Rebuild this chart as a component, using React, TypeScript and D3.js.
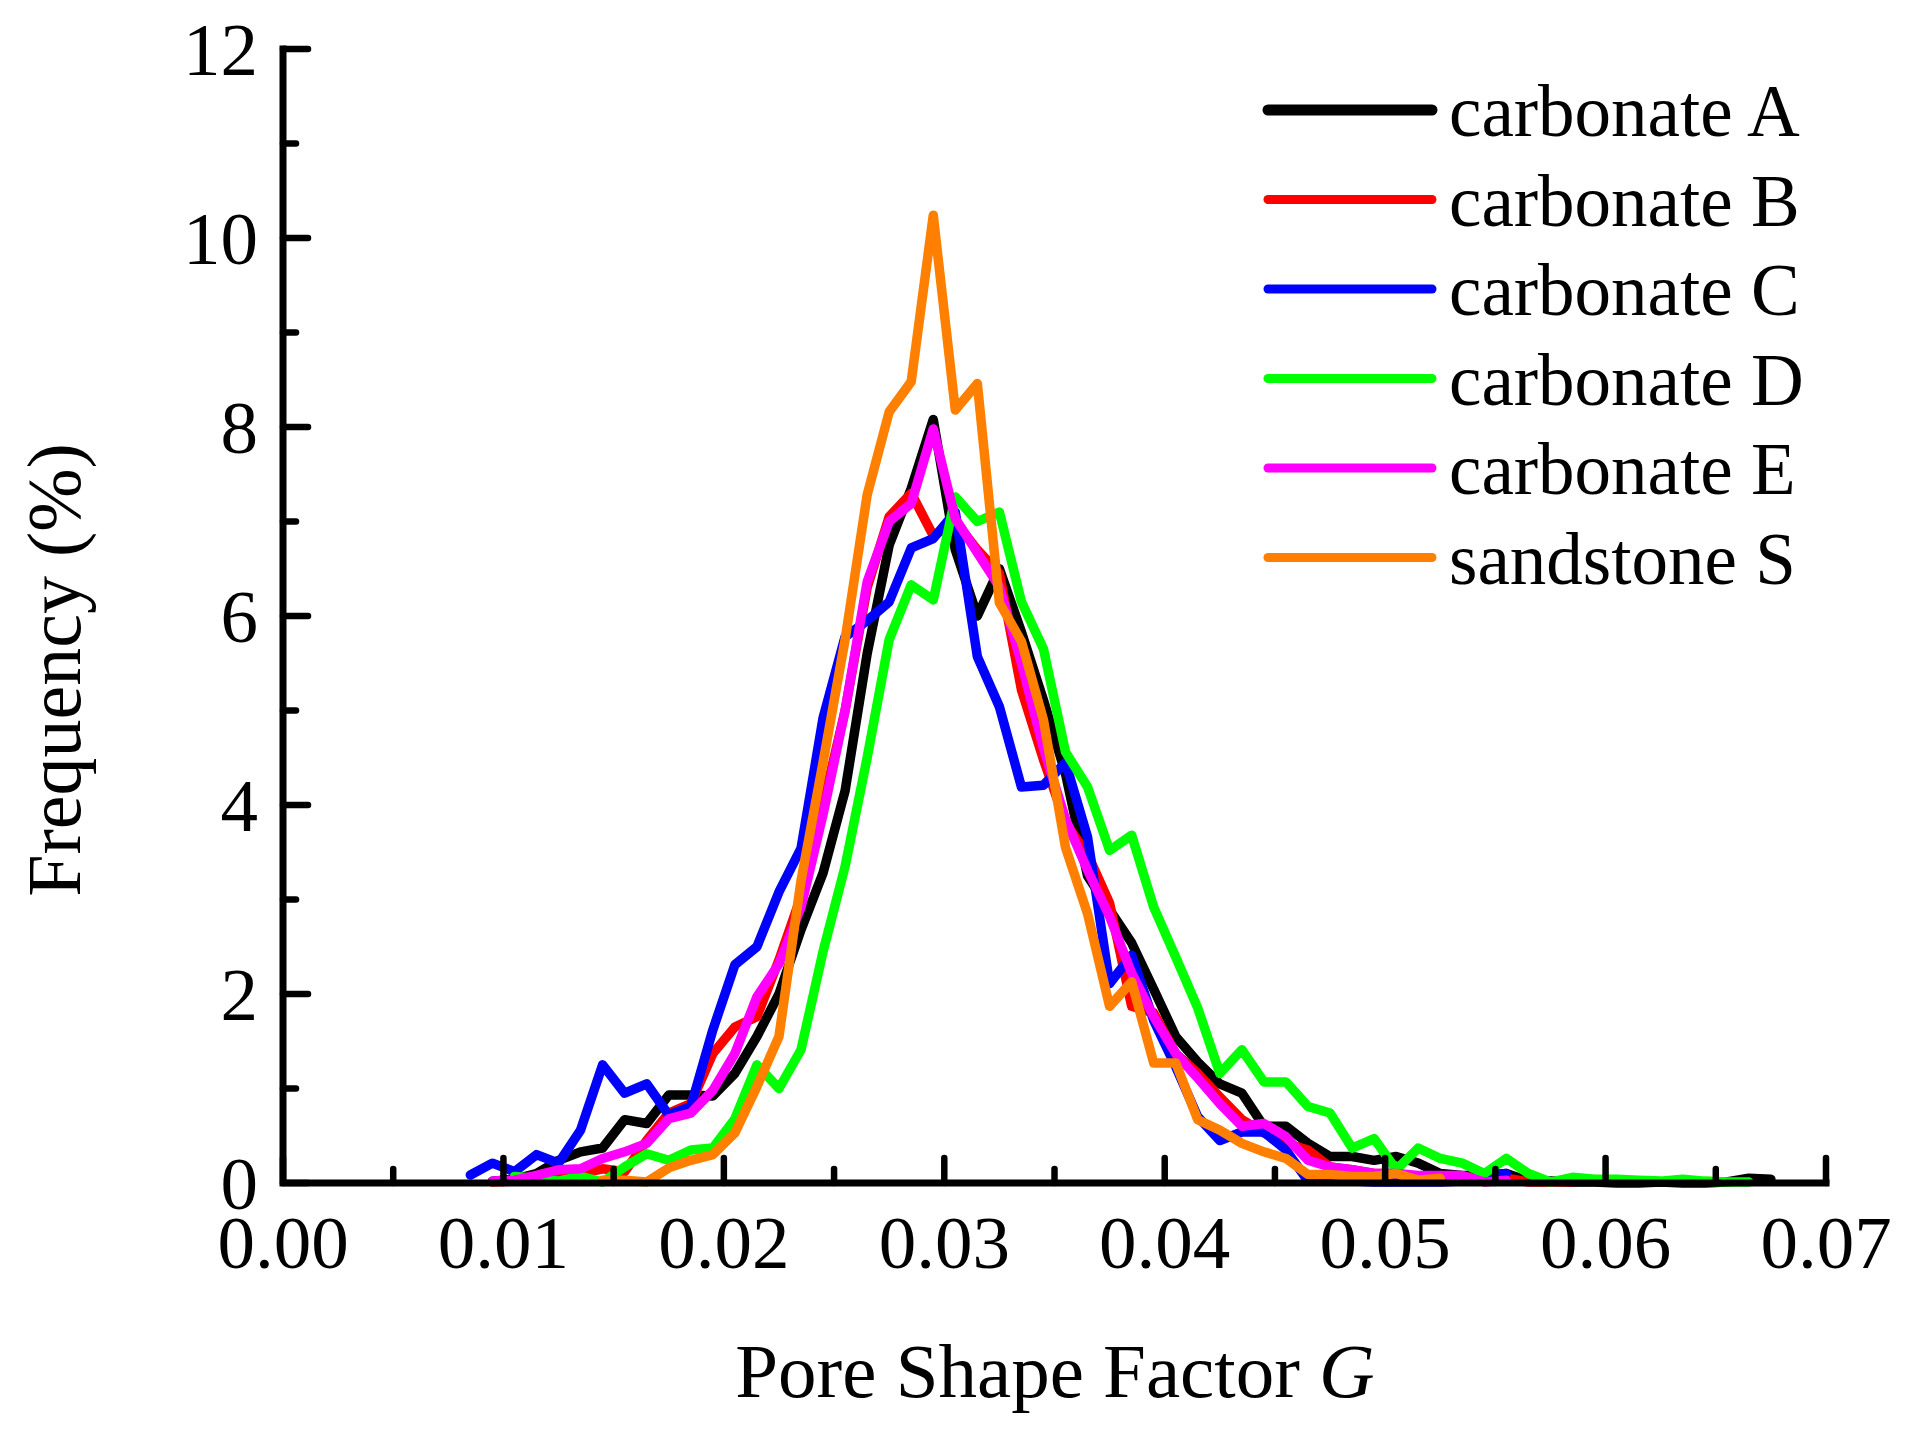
import React from "react";
import * as d3 from "d3";

// Bin centres of pore shape factor G
const gBins: number[] = [
  0.0085, 0.0095, 0.0105, 0.0115, 0.0125, 0.0135, 0.0145, 0.0155, 0.0165, 0.0175,
  0.0185, 0.0195, 0.0205, 0.0215, 0.0225, 0.0235, 0.0245, 0.0255, 0.0265, 0.0275,
  0.0285, 0.0295, 0.0305, 0.0315, 0.0325, 0.0335, 0.0345, 0.0355, 0.0365, 0.0375,
  0.0385, 0.0395, 0.0405, 0.0415, 0.0425, 0.0435, 0.0445, 0.0455, 0.0465, 0.0475,
  0.0485, 0.0495, 0.0505, 0.0515, 0.0525, 0.0535, 0.0545, 0.0555, 0.0565, 0.0575,
  0.0585, 0.0595, 0.0605, 0.0615, 0.0625, 0.0635, 0.0645, 0.0655, 0.0665, 0.0675,
];

type V = number | null;
const _ = null;

const carbonateA: V[] = [
  _, 0.02, 0.04, 0.10, 0.24, 0.33, 0.37, 0.67, 0.63, 0.93,
  0.93, 0.92, 1.16, 1.55, 2.0, 2.68, 3.28, 4.15, 5.6, 6.75,
  7.35, 8.08, 6.7, 6.0, 6.5, 5.83, 5.11, 4.33, 3.25, 2.89,
  2.54, 2.05, 1.55, 1.28, 1.05, 0.95, 0.60, 0.60, 0.42, 0.28,
  0.28, 0.24, 0.28, 0.21, 0.10, 0.08, 0.08, 0.10, 0.02, 0.02,
  0.01, 0.01, 0.0, 0.0, 0.01, 0.0, 0.0, 0.01, 0.05, 0.04,
];
const carbonateB: V[] = [
  _, 0.01, 0.02, 0.02, 0.05, 0.10, 0.15, 0.12, 0.45, 0.74,
  0.84, 1.37, 1.65, 1.76, 2.36, 3.03, 4.0, 5.0, 6.3, 7.05,
  7.3, 6.85, 7.0, 6.7, 6.45, 5.22, 4.48, 3.81, 3.48, 2.96,
  1.87, 1.8, 1.37, 1.16, 0.91, 0.67, 0.53, 0.42, 0.35, 0.17,
  0.14, 0.10, 0.10, 0.05, 0.05, 0.06, 0.06, 0.05, 0.01, 0.01,
  0.01, _, _, _, _, _, _, _, _, _,
];
const carbonateC: V[] = [
  0.085, 0.21, 0.12, 0.30, 0.21, 0.56, 1.25, 0.95, 1.05, 0.72,
  0.81, 1.62, 2.31, 2.50, 3.08, 3.54, 4.92, 5.78, 5.95, 6.15,
  6.72, 6.82, 7.10, 5.57, 5.04, 4.19, 4.21, 4.45, 3.66, 2.11,
  2.41, 1.72, 1.23, 0.70, 0.45, 0.54, 0.54, 0.35, 0.02, 0.02,
  0.02, 0.01, 0.01, 0.01, 0.01, 0.02, 0.08, 0.10, _, _,
  _, _, _, _, _, _, _, _, _, _,
];
const carbonateD: V[] = [
  _, _, 0.07, 0.05, 0.02, 0.07, 0.01, 0.17, 0.31, 0.24,
  0.35, 0.37, 0.68, 1.25, 1.0, 1.41, 2.45, 3.35, 4.5, 5.75,
  6.33, 6.17, 7.26, 7.0, 7.1, 6.15, 5.65, 4.56, 4.19, 3.52,
  3.68, 2.92, 2.39, 1.85, 1.16, 1.41, 1.07, 1.07, 0.81, 0.74,
  0.37, 0.47, 0.14, 0.37, 0.26, 0.21, 0.10, 0.26, 0.10, 0.01,
  0.06, 0.04, 0.04, 0.03, 0.02, 0.04, 0.02, 0.01, 0.01, _,
];
const carbonateE: V[] = [
  _, 0.02, 0.03, 0.08, 0.14, 0.15, 0.26, 0.33, 0.42, 0.68,
  0.74, 0.98, 1.37, 1.97, 2.32, 2.92, 3.9, 5.0, 6.36, 7.0,
  7.19, 7.98, 7.03, 6.67, 6.31, 5.5, 4.6, 3.85, 3.31, 2.82,
  2.22, 1.76, 1.37, 1.11, 0.84, 0.60, 0.63, 0.49, 0.24, 0.17,
  0.14, 0.10, 0.10, 0.08, 0.08, 0.08, 0.01, 0.03, _, _,
  _, _, _, _, _, _, _, _, _, _,
];
const sandstoneS: V[] = [
  _, _, _, _, _, _, 0.03, 0.03, 0.01, 0.16,
  0.24, 0.30, 0.53, 1.02, 1.55, 3.2, 4.45, 5.75, 7.28, 8.16,
  8.48, 10.24, 8.18, 8.46, 6.14, 5.73, 4.9, 3.55, 2.85, 1.87,
  2.13, 1.27, 1.27, 0.67, 0.56, 0.42, 0.33, 0.26, 0.09, 0.09,
  0.07, 0.07, 0.10, 0.03, 0.05, _, _, _, _, _,
  _, _, _, _, _, _, _, _, _, _,
];

const seriesNames = ["carbonate A", "carbonate B", "carbonate C", "carbonate D", "carbonate E", "sandstone S"];
const seriesValues = [carbonateA, carbonateB, carbonateC, carbonateD, carbonateE, sandstoneS];
const seriesColors = ["#000000", "#FF0000", "#0000FF", "#00FF00", "#FF00FF", "#FF8000"];

const xTickValues = [0, 0.01, 0.02, 0.03, 0.04, 0.05, 0.06, 0.07];
const xTickLabels = ["0.00", "0.01", "0.02", "0.03", "0.04", "0.05", "0.06", "0.07"];
const yTickValues = [0, 2, 4, 6, 8, 10, 12];
const yTickLabels = ["0", "2", "4", "6", "8", "10", "12"];

const xTitle = "Pore Shape Factor ";
const xTitleItalic = "G";
const yTitle = "Frequency (%)";

const W = 1910;
const H = 1430;
const FONT = "'Liberation Serif', 'Times New Roman', Times, serif";

export default function App() {
  const x = d3.scaleLinear().domain([0, 0.07]).range([283, 1826]);
  const y = d3.scaleLinear().domain([0, 12]).range([1183, 49]);

  const line = d3
    .line<[number, V]>()
    .defined((d) => d[1] !== null)
    .x((d) => x(d[0]))
    .y((d) => y(d[1] as number));

  const xMinor = d3.range(0.005, 0.07, 0.01);
  const yMinor = d3.range(1, 12, 2);

  const axisStroke = 7;
  const legendY0 = 110;
  const legendStep = 89.5;

  return (
    <svg
      width={W}
      height={H}
      viewBox={`0 0 ${W} ${H}`}
      style={{ position: "absolute", left: 0, top: 0, background: "#fff" }}
    >
      <rect x={0} y={0} width={W} height={H} fill="#fff" />

      {/* series */}
      {seriesValues.map((vals, si) => (
        <path
          key={seriesNames[si]}
          d={line(gBins.map((g, i) => [g, vals[i]] as [number, V])) || ""}
          fill="none"
          stroke={seriesColors[si]}
          strokeWidth={9.5}
          strokeLinejoin="round"
          strokeLinecap="round"
        />
      ))}

      {/* axes */}
      <g stroke="#000" strokeLinecap="round" fill="none">
        <path
          d={`M${x(0)},${y(12)} L${x(0)},${y(0)} L${x(0.07)},${y(0)}`}
          strokeWidth={axisStroke}
          strokeLinecap="square"
          strokeLinejoin="miter"
        />
        {xTickValues.map((v) => (
          <line key={"xt" + v} x1={x(v)} x2={x(v)} y1={y(0)} y2={y(0) - 25} strokeWidth={6.5} />
        ))}
        {xMinor.map((v) => (
          <line key={"xm" + v} x1={x(v)} x2={x(v)} y1={y(0)} y2={y(0) - 14} strokeWidth={6.5} />
        ))}
        {yTickValues.map((v) => (
          <line key={"yt" + v} x1={x(0)} x2={x(0) + 25} y1={y(v)} y2={y(v)} strokeWidth={6.5} />
        ))}
        {yMinor.map((v) => (
          <line key={"ym" + v} x1={x(0)} x2={x(0) + 13} y1={y(v)} y2={y(v)} strokeWidth={6.5} />
        ))}
      </g>

      {/* tick labels */}
      <g fontFamily={FONT} fontSize={75} fill="#000">
        {xTickValues.map((v, i) => (
          <text key={"xl" + v} x={x(v)} y={1268} textAnchor="middle">
            {xTickLabels[i]}
          </text>
        ))}
        {yTickValues.map((v, i) => (
          <text key={"yl" + v} x={258} y={y(v) + 26} textAnchor="end">
            {yTickLabels[i]}
          </text>
        ))}
      </g>

      {/* axis titles */}
      <text
        x={1055}
        y={1397}
        textAnchor="middle"
        fontFamily={FONT}
        fontSize={77}
        fill="#000"
      >
        {xTitle}
        <tspan fontStyle="italic">{xTitleItalic}</tspan>
      </text>
      <text
        transform={`translate(80,670) rotate(-90)`}
        textAnchor="middle"
        fontFamily={FONT}
        fontSize={76}
        fill="#000"
      >
        {yTitle}
      </text>

      {/* legend */}
      <g>
        {seriesNames.map((name, i) => {
          const ly = legendY0 + i * legendStep;
          return (
            <g key={"lg" + name}>
              <line
                x1={1268}
                x2={1432}
                y1={ly}
                y2={ly}
                stroke={seriesColors[i]}
                strokeWidth={i === 0 ? 11 : 9}
                strokeLinecap="round"
              />
              <text x={1449} y={ly + 26} fontFamily={FONT} fontSize={73} fill="#000">
                {name}
              </text>
            </g>
          );
        })}
      </g>
    </svg>
  );
}
